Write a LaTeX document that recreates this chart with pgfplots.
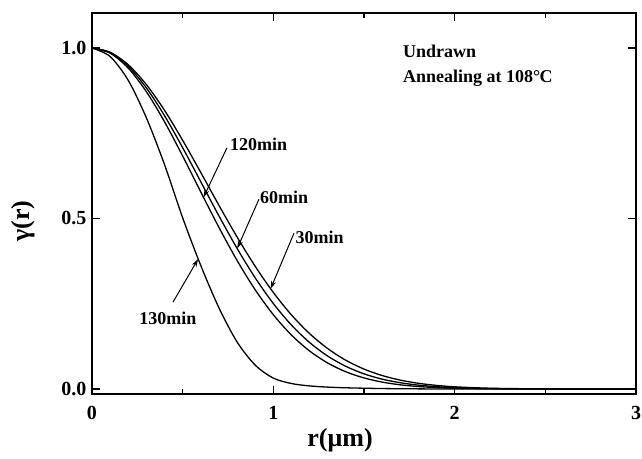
\documentclass[border=0pt]{standalone}
\usepackage{pgfplots}
\pgfplotsset{compat=1.18}
\usepackage{fontspec}
\setmainfont{Liberation Serif}
\usetikzlibrary{arrows.meta,calc}

\begin{document}
\begin{tikzpicture}
\begin{axis}[
 name=ax,
 width=544pt, height=381pt, scale only axis,
 xmin=0, xmax=3, ymin=-0.0147, ymax=1.1026,
 xtick={0,1,2,3}, xticklabels={0,1,2,3},
 minor xtick={0.5,1.5,2.5},
 ytick={0,0.5,1}, yticklabels={0.0,0.5,1.0},
 tick align=inside,
 major tick length=8pt, minor tick length=5pt,
 axis line style={line width=1.6pt},
 every tick/.style={line width=1.4pt, black},
 tick label style={font=\bfseries\fontsize{20}{22}\selectfont},
 xticklabel style={yshift=-9pt},
 yticklabel style={xshift=-2pt},
 /pgf/number format/assume math mode=true,
 xlabel={r(μm)}, ylabel={γ(r)},
 label style={font=\bfseries\fontsize{26}{28}\selectfont},
 x label style={at={(axis description cs:0.456,-0.121)},anchor=center},
 y label style={at={(axis description cs:-0.127,0.454)},anchor=center},
]
% 30min
\addplot[black, line width=1.3pt, smooth] table {
0 1.0
0.1 0.9875
0.2 0.9508
0.3 0.8926
0.4 0.8171
0.5 0.7293
0.6 0.6348
0.7 0.5387
0.8 0.4458
0.9 0.3597
1.0 0.2830
1.1 0.2171
1.2 0.1624
1.3 0.1184
1.4 0.0842
1.5 0.0584
1.6 0.0395
1.7 0.0260
1.8 0.0167
1.9 0.0105
2.0 0.0064
2.2 0.0022
2.5 0.0004
3.0 0.0
};
% 60min
\addplot[black, line width=1.3pt, smooth] table {
0 1.0
0.1 0.9863
0.2 0.9461
0.3 0.8829
0.4 0.8014
0.5 0.7075
0.6 0.6076
0.7 0.5075
0.8 0.4124
0.9 0.3259
1.0 0.2506
1.1 0.1874
1.2 0.1363
1.3 0.0964
1.4 0.0664
1.5 0.0444
1.6 0.0289
1.7 0.0183
1.8 0.0113
1.9 0.0068
2.0 0.0039
2.2 0.0012
2.5 0.0002
3.0 0.0
};
% 120min
\addplot[black, line width=1.3pt, smooth] table {
0 1.0
0.1 0.9849
0.2 0.9409
0.3 0.8718
0.4 0.7836
0.5 0.6832
0.6 0.5777
0.7 0.4739
0.8 0.3770
0.9 0.2909
1.0 0.2178
1.1 0.1581
1.2 0.1114
1.3 0.0761
1.4 0.0504
1.5 0.0324
1.6 0.0202
1.7 0.0122
1.8 0.0072
1.9 0.0041
2.0 0.0022
2.2 0.0006
2.5 0.0001
3.0 0.0
};
% 130min
\addplot[black, line width=1.3pt, smooth] table {
0 1.0
0.1 0.975
0.2 0.905
0.3 0.795
0.4 0.658
0.5 0.502
0.6 0.362
0.7 0.238
0.8 0.138
0.9 0.070
1.0 0.032
1.1 0.016
1.2 0.009
1.3 0.0055
1.4 0.0035
1.6 0.0013
1.8 0.0004
2.0 0.0
3.0 0.0
};

\tikzset{lab/.style={font=\bfseries\fontsize{18}{20}\selectfont, inner sep=0pt}}
\node[lab, anchor=west] at (axis cs:1.715,0.990) {Undrawn};
\node[lab, anchor=west] at (axis cs:1.715,0.912) {Annealing at 108°\kern-0.04em C};

\node[lab, anchor=west] at (axis cs:0.761,0.716) {120min};
\draw[line width=1pt, -{Stealth[length=8pt,width=5pt]}] (axis cs:0.744,0.707) -- (axis cs:0.615,0.562);

\node[lab, anchor=west] at (axis cs:0.926,0.563) {60min};
\draw[line width=1pt, -{Stealth[length=8pt,width=5pt]}] (axis cs:0.921,0.557) -- (axis cs:0.801,0.412);

\node[lab, anchor=west] at (axis cs:1.122,0.446) {30min};
\draw[line width=1pt, -{Stealth[length=8pt,width=5pt]}] (axis cs:1.114,0.457) -- (axis cs:0.985,0.294);

\node[lab, anchor=center] at (axis cs:0.419,0.208) {130min};
\draw[line width=1pt, -{Stealth[length=8pt,width=5pt]}] (axis cs:0.447,0.255) -- (axis cs:0.585,0.381);
\end{axis}
\pgfresetboundingbox
\path ($(ax.south west)+(-92pt,-64pt)$) rectangle ($(ax.north east)+(6pt,13pt)$);
\end{tikzpicture}
\end{document}
